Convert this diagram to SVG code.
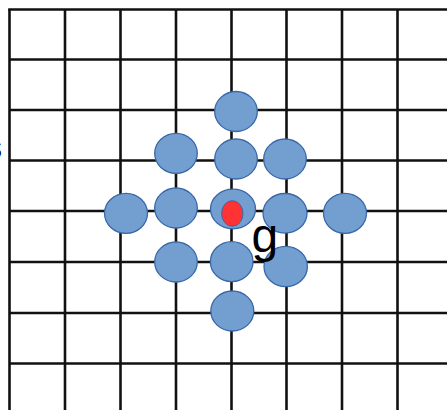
<svg xmlns="http://www.w3.org/2000/svg" width="447" height="410" viewBox="0 0 447 410">
<style>
.grid line{stroke:#111;stroke-width:2.6}
.c{fill:#729fcf;stroke:#3a67a8;stroke-width:1.3}
.r{fill:#ff3333;stroke:#3a67a8;stroke-width:1}
.t{font-family:"Liberation Sans",Arial,sans-serif;fill:#000}
</style>
<rect width="447" height="410" fill="#fff"/>
<g id="grid" class="grid">
<line x1="9.5" y1="9" x2="9.5" y2="410"/>
<line x1="65" y1="9" x2="65" y2="410"/>
<line x1="120.5" y1="9" x2="120.5" y2="410"/>
<line x1="176" y1="9" x2="176" y2="410"/>
<line x1="231.5" y1="9" x2="231.5" y2="410"/>
<line x1="286.5" y1="9" x2="286.5" y2="410"/>
<line x1="342" y1="9" x2="342" y2="410"/>
<line x1="397.5" y1="9" x2="397.5" y2="410"/>
<line x1="8.2" y1="9.5" x2="447" y2="9.5"/>
<line x1="9.5" y1="59.5" x2="447" y2="59.5"/>
<line x1="9.5" y1="110" x2="447" y2="110"/>
<line x1="9.5" y1="160.5" x2="447" y2="160.5"/>
<line x1="9.5" y1="211" x2="447" y2="211"/>
<line x1="9.5" y1="262" x2="447" y2="262"/>
<line x1="9.5" y1="313" x2="447" y2="313"/>
<line x1="9.5" y1="363.5" x2="447" y2="363.5"/>
</g>
<g id="n1"><ellipse class="c" cx="236" cy="111.5" rx="21.3" ry="20"/></g>
<g id="n2"><ellipse class="c" cx="176" cy="153.3" rx="21.3" ry="20"/></g>
<g id="n3"><ellipse class="c" cx="236" cy="159" rx="21.3" ry="20"/></g>
<g id="n4"><ellipse class="c" cx="285" cy="159" rx="21.3" ry="20"/></g>
<g id="n5"><ellipse class="c" cx="126" cy="213.3" rx="21.5" ry="20"/></g>
<g id="n6"><ellipse class="c" cx="176" cy="208" rx="21.3" ry="20"/></g>
<g id="n7"><ellipse class="c" cx="233" cy="209" rx="22.5" ry="19.8"/><ellipse class="r" cx="232.3" cy="213.5" rx="10.7" ry="12.8"/></g>
<g id="n8"><ellipse class="c" cx="285" cy="213.3" rx="22" ry="19.8"/></g>
<g id="n9"><ellipse class="c" cx="345" cy="213.3" rx="21.5" ry="20"/></g>
<g id="n10"><ellipse class="c" cx="176" cy="262" rx="21.3" ry="20"/></g>
<g id="n11"><ellipse class="c" cx="231.7" cy="261.7" rx="21.3" ry="20"/></g>
<g id="n12"><ellipse class="c" cx="285.7" cy="266.5" rx="21.7" ry="20.2"/></g>
<g id="n13"><ellipse class="c" cx="232.3" cy="311" rx="21.5" ry="20"/></g>
<g id="labels">
<text class="t" x="251.5" y="252" font-size="48">g</text>
<text class="t" x="-13.5" y="157.5" font-size="31">s</text>
</g>
</svg>
